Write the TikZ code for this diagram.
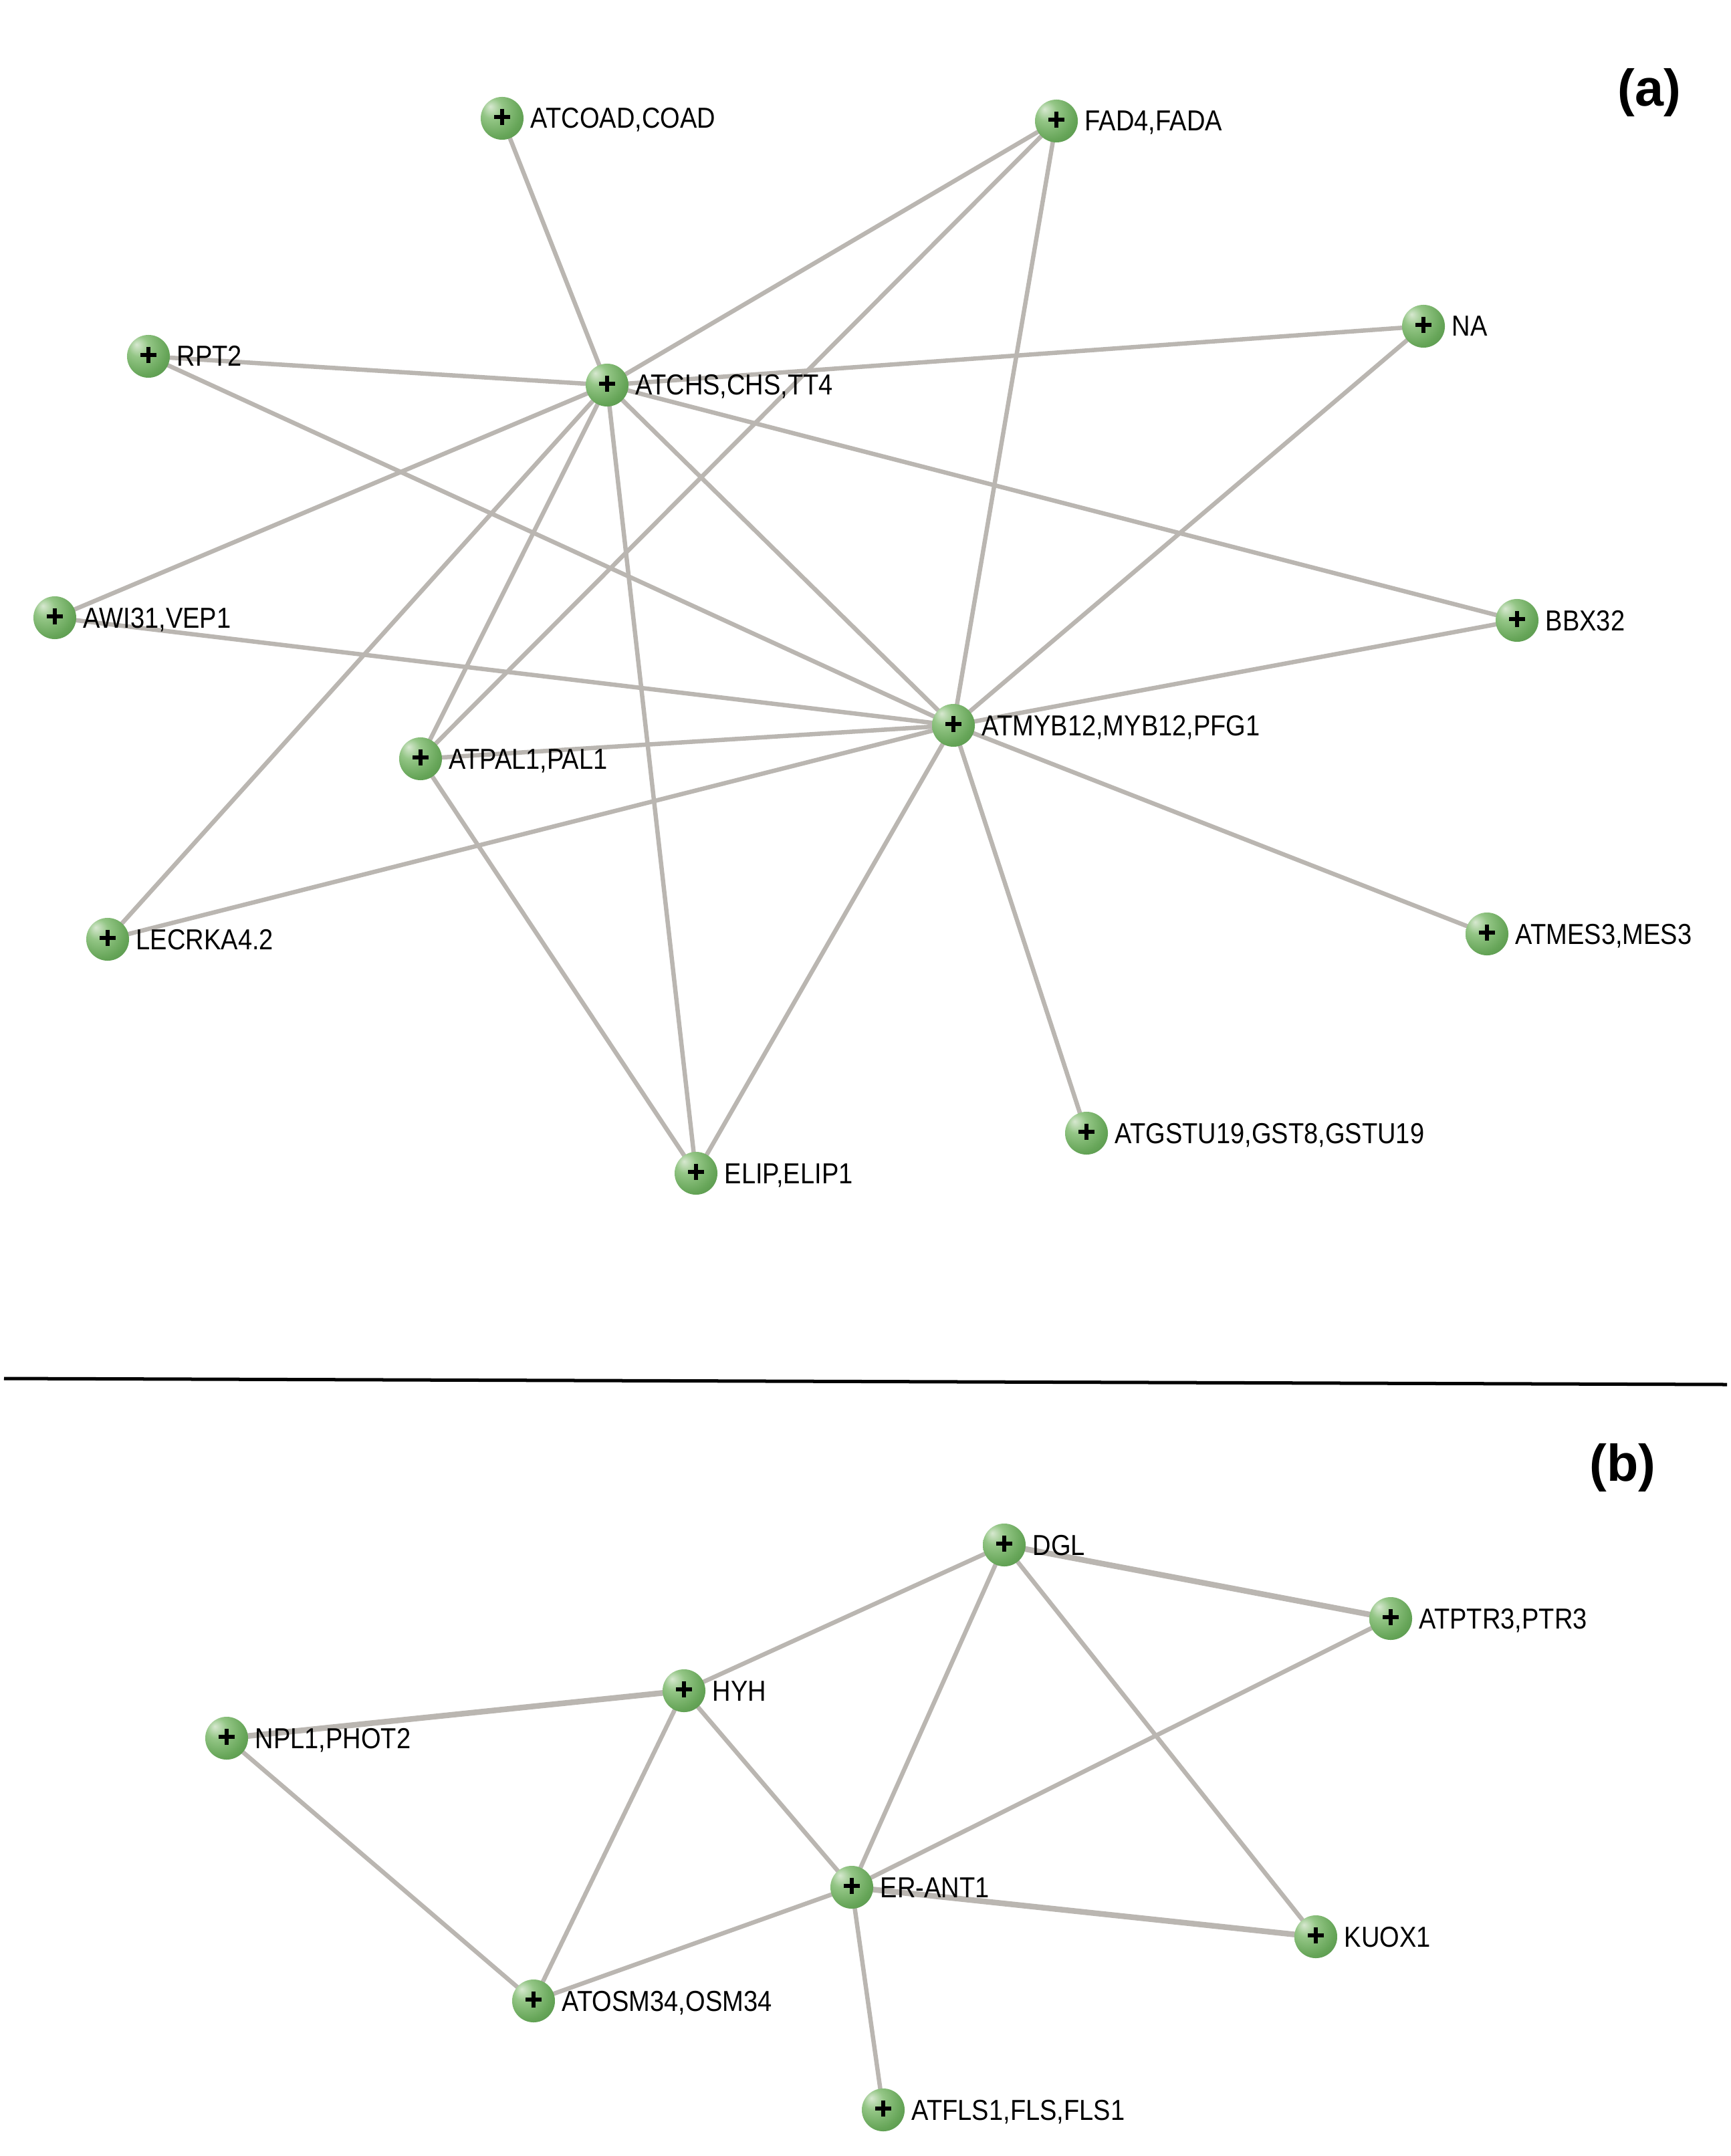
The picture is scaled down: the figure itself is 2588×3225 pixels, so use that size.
\documentclass[tikz,border=0pt]{standalone}
\usepackage{fontspec}
\setmainfont{Liberation Sans}
\newfontfamily\labfont[FakeStretch=0.88]{Liberation Sans}
\usetikzlibrary{backgrounds}
\definecolor{edgecol}{RGB}{186,182,177}
\definecolor{gbA}{RGB}{215,232,208}
\definecolor{gbB}{RGB}{148,198,134}
\definecolor{gbC}{RGB}{102,165,88}
\definecolor{gbD}{RGB}{68,130,60}
\definecolor{gbE}{RGB}{60,118,54}
\pgfdeclareradialshading{greenball}{\pgfqpoint{-14bp}{14bp}}{%
  color(0bp)=(gbA); color(12bp)=(gbB); color(30bp)=(gbC); color(52bp)=(gbD); color(70bp)=(gbE)}
\newcommand{\genenode}[4]{%
  \node[gene] (#1) at (#2,#3) {};
  \node[genelab] (#1-l) at (#2+42,#3+15) {#4};
}
\begin{document}
\begin{tikzpicture}[x=0.01cm,y=-0.01cm,
  gene/.style={circle, minimum size=0.64cm, inner sep=0pt, shading=greenball,
    path picture={
      \draw[line width=0.055cm,black] ([xshift=-0.12cm,yshift=0.02cm]path picture bounding box.center) -- ++(0.24cm,0);
      \draw[line width=0.055cm,black] ([xshift=0cm,yshift=-0.10cm]path picture bounding box.center) -- ++(0,0.24cm);
    }},
  genelab/.style={anchor=base west, inner sep=0pt, font=\labfont\fontsize{12.3pt}{14pt}\selectfont, text=black},
  edge/.style={draw=edgecol, line width=0.065cm},
  edgethick/.style={draw=edgecol, line width=0.085cm},
  panellab/.style={font=\bfseries\fontsize{22pt}{26pt}\selectfont, inner sep=0pt}
]
\useasboundingbox (0,0) rectangle (2588,3225);

% panel (a)
\genenode{coad}{751}{177}{ATCOAD,COAD}
\genenode{fad}{1580}{181}{FAD4,FADA}
\genenode{na}{2129}{488}{NA}
\genenode{rpt}{222}{533}{RPT2}
\genenode{chs}{908}{576}{ATCHS,CHS,TT4}
\genenode{awi}{82}{924}{AWI31,VEP1}
\genenode{bbx}{2269}{928}{BBX32}
\genenode{myb}{1426}{1085}{ATMYB12,MYB12,PFG1}
\genenode{pal}{629}{1135}{ATPAL1,PAL1}
\genenode{lec}{161}{1405}{LECRKA4.2}
\genenode{mes}{2224}{1397}{ATMES3,MES3}
\genenode{gst}{1625}{1695}{ATGSTU19,GST8,GSTU19}
\genenode{elip}{1041}{1755}{ELIP,ELIP1}

\node[panellab] (pa) at (2467,139) {(a)};
\node[panellab] (pb) at (2427,2195) {(b)};

% panel (b)
\genenode{dgl}{1502}{2311}{DGL}
\genenode{ptr}{2080}{2421}{ATPTR3,PTR3}
\genenode{hyh}{1023}{2529}{HYH}
\genenode{npl}{339}{2600}{NPL1,PHOT2}
\genenode{ant}{1274}{2823}{ER-ANT1}
\genenode{kuo}{1968}{2897}{KUOX1}
\genenode{osm}{798}{2993}{ATOSM34,OSM34}
\genenode{fls}{1321}{3156}{ATFLS1,FLS,FLS1}

\coordinate (sepL) at (6,2062);
\coordinate (sepR) at (2583,2071);
\draw[black, line width=0.05cm] (sepL) -- (sepR);

\begin{scope}[on background layer]
  \fill[white] (0,0) rectangle (2588,3225);
  \foreach \a/\b in {coad/chs, fad/chs, fad/pal, fad/myb, na/chs, na/myb,
      rpt/chs, rpt/myb, chs/bbx, chs/awi, chs/lec, chs/pal, chs/elip, chs/myb,
      awi/myb, bbx/myb, pal/myb, lec/myb, pal/elip, elip/myb, myb/mes, myb/gst}
    \draw[edge] (\a.center) -- (\b.center);
  \foreach \a/\b in {dgl/hyh, dgl/ant, dgl/kuo, ptr/ant, hyh/ant, hyh/osm,
      npl/osm, osm/ant, ant/fls}
    \draw[edge] (\a.center) -- (\b.center);
  \foreach \a/\b in {dgl/ptr, hyh/npl, ant/kuo}
    \draw[edgethick] (\a.center) -- (\b.center);
\end{scope}
\end{tikzpicture}
\end{document}
